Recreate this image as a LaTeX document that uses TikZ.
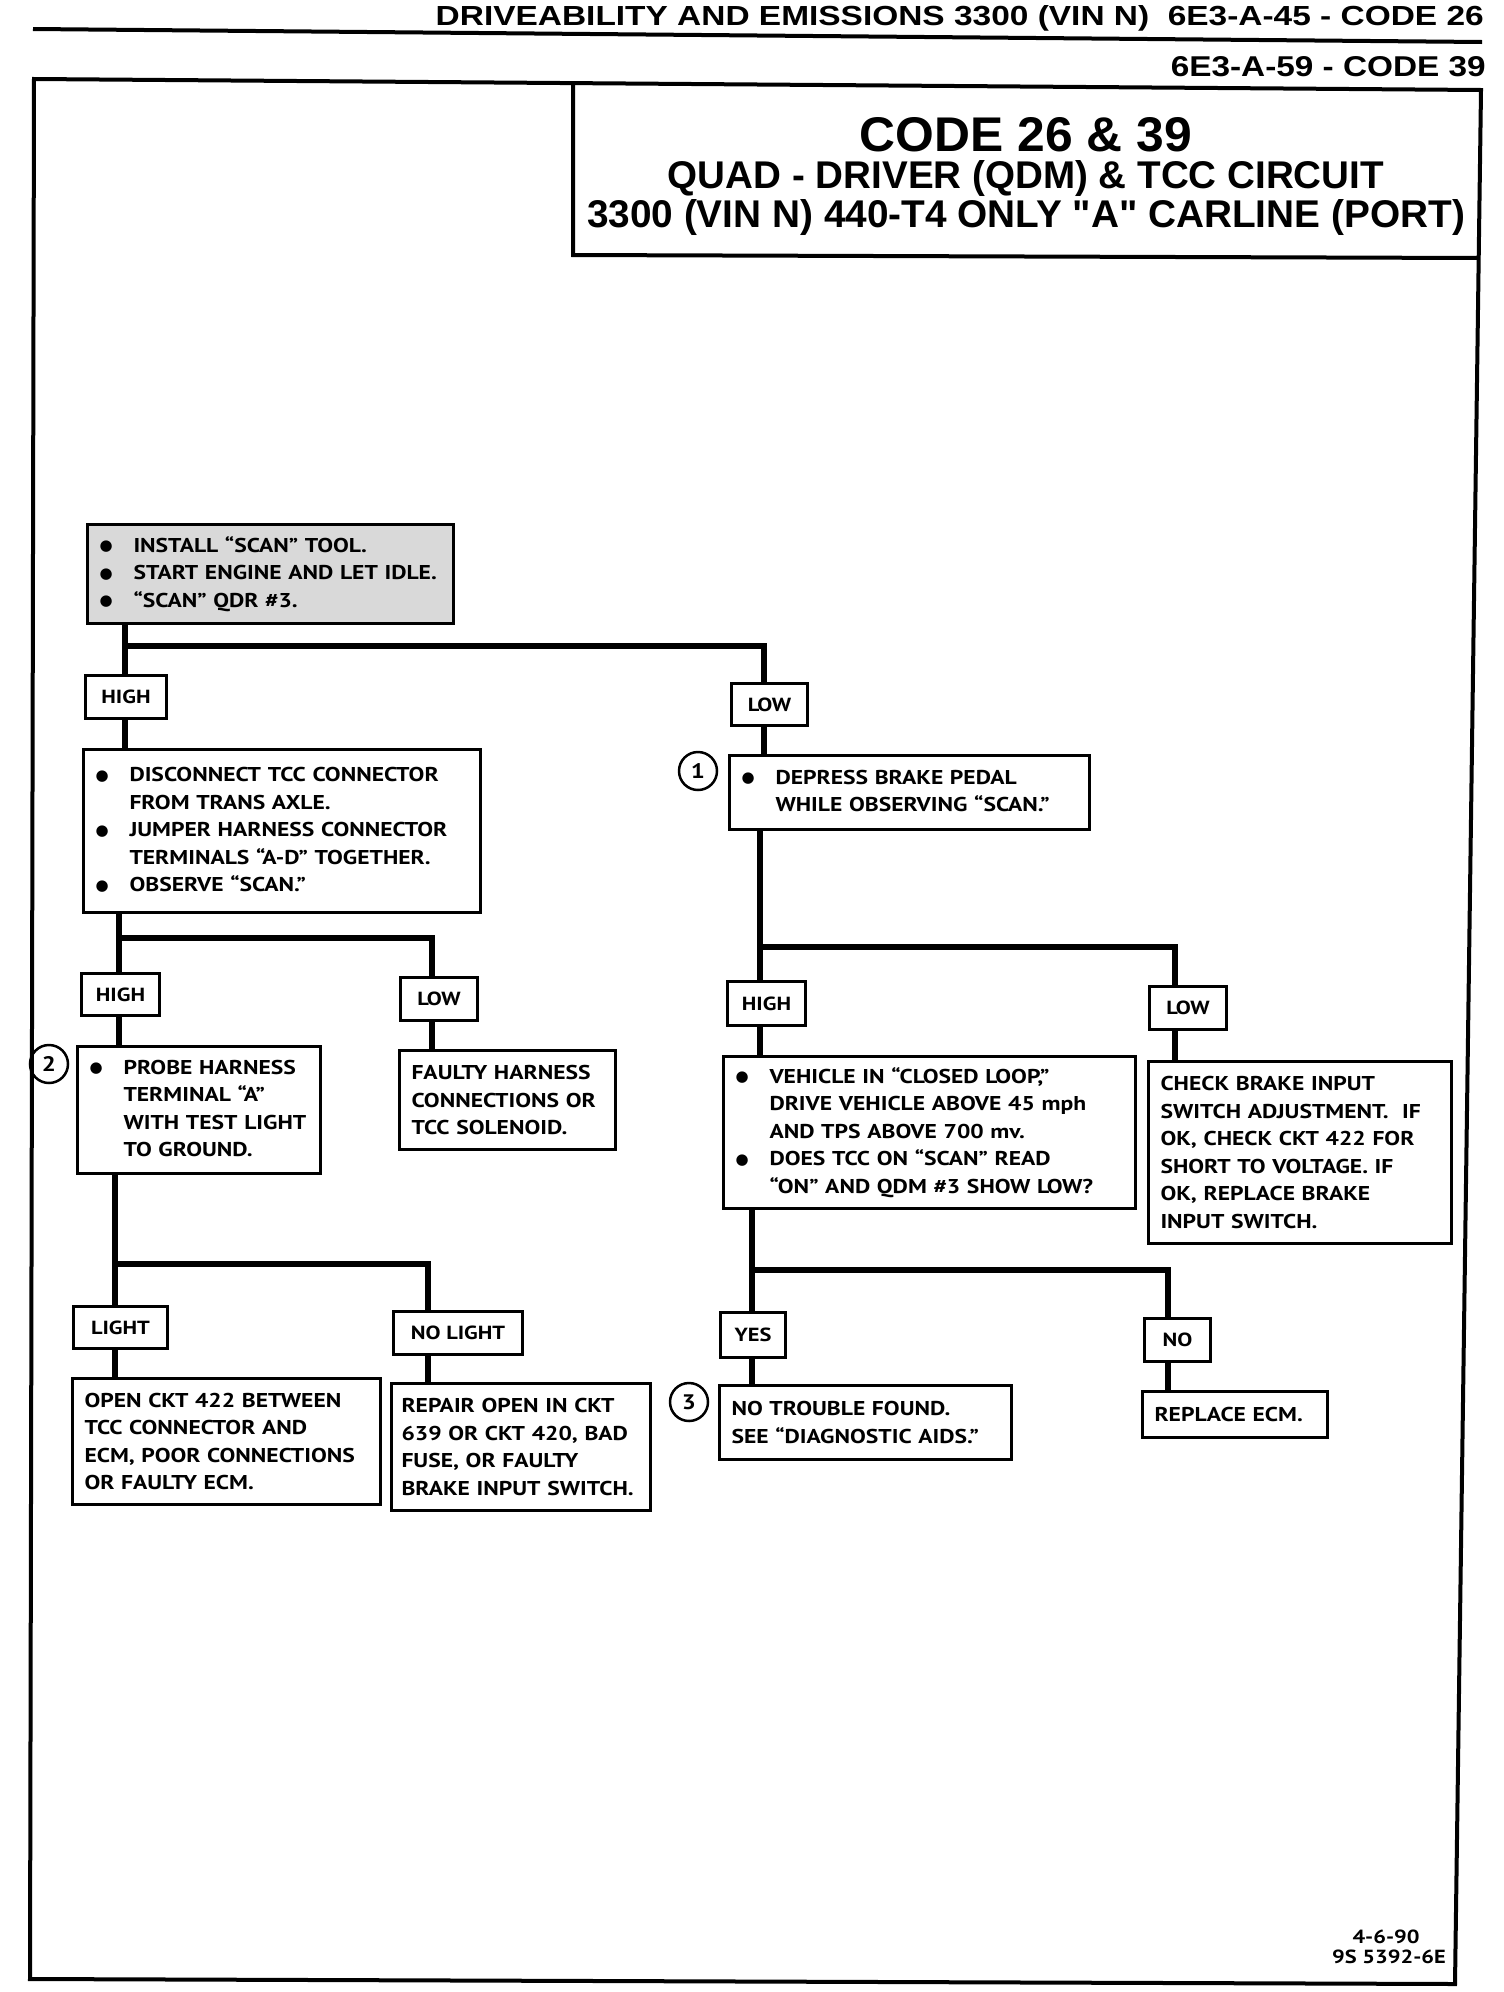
\documentclass[tikz,border=0pt]{standalone}
\usepackage{fontspec}
\usepackage{graphicx}
\usepackage{tikz}
\setmainfont{PT Sans}[FakeStretch=1.18]
\newfontfamily\cabfont{Liberation Sans}
\newfontfamily\simbolo{DejaVu Sans}
\definecolor{gray200}{HTML}{D9D9D9}
\tikzstyle{caixa}=[draw=black, line width=3pt, anchor=north west, inner xsep=12pt, inner ysep=0pt, align=left, font=\fontsize{20}{27.5}\selectfont\bfseries]
\tikzstyle{rotulo}=[draw=black, line width=3pt, anchor=north west, inner sep=0pt, font=\fontsize{19}{22}\selectfont\bfseries]
\tikzstyle{numero}=[circle, draw=black, line width=2.5pt, minimum size=38pt, inner sep=0pt, font=\fontsize{21}{21}\selectfont\bfseries]
\tikzstyle{linha}=[line width=6pt]
\newcommand{\itens}[1]{\begin{tabular}{@{}p{34pt}@{}l@{}}#1\end{tabular}}
\newcommand{\bola}{\raisebox{1.5pt}{\simbolo\fontsize{15}{15}\selectfont ●}}

\begin{document}
\begin{tikzpicture}[x=1pt, y=-1pt]
				\useasboundingbox (0,0) rectangle (1504,1992);
				% header
				\node[anchor=base east, inner sep=0pt, font=\cabfont\bfseries] (cab1) at (1484,25) {\resizebox{1048pt}{20pt}{DRIVEABILITY AND EMISSIONS 3300 (VIN N)\ \ 6E3-A-45 - CODE 26}};
				\draw[line width=4pt] (33,29) -- (1482,42);
				\node[anchor=base east, inner sep=0pt, font=\cabfont\bfseries] (cab2) at (1486,76) {\resizebox{315pt}{20pt}{6E3-A-59 - CODE 39}};
				% frame and title
				\draw[line width=4pt] (34,79) -- (1481,90) -- (1455,1984) -- (30,1979) -- cycle;
				\draw[line width=4pt] (573,84) -- (573,255) -- (1479,258);
				\node[anchor=base, inner sep=0pt, font=\cabfont\bfseries] (tit1) at (1026,151) {\resizebox{332pt}{34pt}{CODE 26 \& 39}};
				\node[anchor=base, inner sep=0pt, font=\cabfont\bfseries] (tit2) at (1026,188) {\resizebox{716pt}{28pt}{QUAD - DRIVER (QDM) \& TCC CIRCUIT}};
				\node[anchor=base, inner sep=0pt, font=\cabfont\bfseries] (tit3) at (1026,227) {\resizebox{878pt}{28pt}{3300 (VIN N) 440-T4 ONLY "A" CARLINE (PORT)}};
				% boxes
				\node[caixa, fill=gray200, text width=342pt, minimum height=99pt] (S) at (86,523) {\itens{\bola & INSTALL “SCAN” TOOL.\\ \bola & START ENGINE AND LET IDLE.\\ \bola & “SCAN” QDR \#3.}};
				\node[rotulo, minimum width=81pt, minimum height=43pt] (H1) at (84,674) {HIGH};
				\node[rotulo, minimum width=76pt, minimum height=42pt] (L1) at (730,682) {LOW};
				\node[caixa, text width=373pt, minimum height=163pt] (A) at (82,748) {\itens{\bola & DISCONNECT TCC CONNECTOR\\ & FROM TRANS AXLE.\\ \bola & JUMPER HARNESS CONNECTOR\\ & TERMINALS “A-D” TOGETHER.\\ \bola & OBSERVE “SCAN.”}};
				\node[caixa, text width=336pt, minimum height=74pt] (B) at (728,754) {\itens{\bola & DEPRESS BRAKE PEDAL\\ & WHILE OBSERVING “SCAN.”}};
				\node[numero] (n1) at (698,771) {1};
				\node[rotulo, minimum width=78pt, minimum height=42pt] (H2) at (80,972) {HIGH};
				\node[rotulo, minimum width=77pt, minimum height=43pt] (L2) at (399,976) {LOW};
				\node[caixa, text width=219pt, minimum height=127pt] (C) at (76,1045) {\itens{\bola & PROBE HARNESS\\ & TERMINAL “A”\\ & WITH TEST LIGHT\\ & TO GROUND.}};
				\node[numero] (n2) at (49,1064) {2};
				\node[caixa, text width=192pt, minimum height=99pt] (D) at (398,1049) {FAULTY HARNESS\\ CONNECTIONS OR\\ TCC SOLENOID.};
				\node[rotulo, minimum width=94pt, minimum height=42pt] (LT) at (72,1305) {LIGHT};
				\node[rotulo, minimum width=129pt, minimum height=43pt] (NL) at (392,1310) {NO LIGHT};
				\node[caixa, text width=284pt, minimum height=126pt] (E) at (71,1377) {OPEN CKT 422 BETWEEN\\ TCC CONNECTOR AND\\ ECM, POOR CONNECTIONS\\ OR FAULTY ECM.};
				\node[caixa, inner xsep=10pt, text width=239pt, minimum height=127pt] (F) at (390,1382) {REPAIR OPEN IN CKT\\ 639 OR CKT 420, BAD\\ FUSE, OR FAULTY\\ BRAKE INPUT SWITCH.};
				\node[rotulo, minimum width=78pt, minimum height=44pt] (H3) at (726,980) {HIGH};
				\node[rotulo, minimum width=77pt, minimum height=43pt] (L3) at (1148,985) {LOW};
				\node[caixa, text width=388pt, minimum height=152pt] (G) at (722,1055) {\itens{\bola & VEHICLE IN “CLOSED LOOP,”\\ & DRIVE VEHICLE ABOVE 45 mph\\ & AND TPS ABOVE 700 mv.\\ \bola & DOES TCC ON “SCAN” READ\\ & “ON” AND QDM \#3 SHOW LOW?}};
				\node[caixa, text width=279pt, minimum height=182pt] (K) at (1147,1060) {CHECK BRAKE INPUT\\ SWITCH ADJUSTMENT.\ \ IF\\ OK, CHECK CKT 422 FOR\\ SHORT TO VOLTAGE.\ IF\\ OK, REPLACE BRAKE\\ INPUT SWITCH.};
				\node[rotulo, minimum width=65pt, minimum height=45pt] (Y) at (719,1311) {YES};
				\node[rotulo, minimum width=66pt, minimum height=43pt] (N) at (1143,1317) {NO};
				\node[caixa, text width=268pt, minimum height=74pt] (I) at (718,1384) {NO TROUBLE FOUND.\\ SEE “DIAGNOSTIC AIDS.”};
				\node[numero] (n3) at (689,1402) {3};
				\node[caixa, text width=161pt, minimum height=46pt] (J) at (1141,1390) {REPLACE ECM.};
				% footer
				\node[anchor=base, inner sep=0pt, font=\fontsize{19}{22}\selectfont\bfseries] (data) at (1386,1943) {4-6-90};
				\node[anchor=base, inner sep=0pt, font=\fontsize{19}{22}\selectfont\bfseries] (ref) at (1389,1963) {9S 5392-6E};
				% connectors
				\coordinate (jS) at (125,646);
				\coordinate (kS) at (764,646);
				\draw[linha] (S.south -| jS) -- (H1.north -| jS);
				\draw[linha] (jS) -- (kS) -- (L1.north -| kS);
				\draw[linha] (H1.south -| jS) -- (A.north -| jS);
				\draw[linha] (L1.south -| kS) -- (B.north -| kS);
				\coordinate (jA) at (119,938);
				\coordinate (kA) at (432,938);
				\draw[linha] (A.south -| jA) -- (H2.north -| jA);
				\draw[linha] (jA) -- (kA) -- (L2.north -| kA);
				\draw[linha] (H2.south -| jA) -- (C.north -| jA);
				\draw[linha] (L2.south -| kA) -- (D.north -| kA);
				\coordinate (jC) at (115,1264);
				\coordinate (kC) at (428,1264);
				\draw[linha] (C.south -| jC) -- (LT.north -| jC);
				\draw[linha] (jC) -- (kC) -- (NL.north -| kC);
				\draw[linha] (LT.south -| jC) -- (E.north -| jC);
				\draw[linha] (NL.south -| kC) -- (F.north -| kC);
				\coordinate (jB) at (760,947);
				\coordinate (kB) at (1175,947);
				\draw[linha] (B.south -| jB) -- (H3.north -| jB);
				\draw[linha] (jB) -- (kB) -- (L3.north -| kB);
				\draw[linha] (H3.south -| jB) -- (G.north -| jB);
				\draw[linha] (L3.south -| kB) -- (K.north -| kB);
				\coordinate (jG) at (752,1270);
				\coordinate (kG) at (1168,1270);
				\draw[linha] (G.south -| jG) -- (Y.north -| jG);
				\draw[linha] (jG) -- (kG) -- (N.north -| kG);
				\draw[linha] (Y.south -| jG) -- (I.north -| jG);
				\draw[linha] (N.south -| kG) -- (J.north -| kG);
			\end{tikzpicture}
\end{document}
